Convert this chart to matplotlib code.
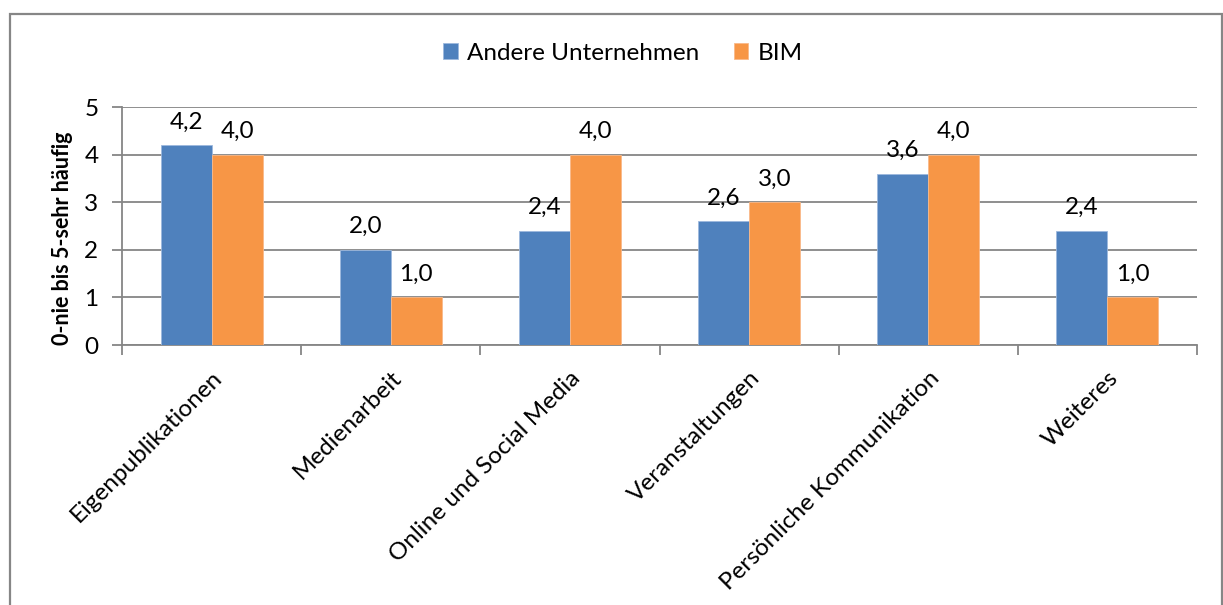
import matplotlib
matplotlib.use("Agg")
import matplotlib.pyplot as plt
from matplotlib.patches import Rectangle
import numpy as np

categories = ["Eigenpublikationen", "Medienarbeit", "Online und Social Media",
              "Veranstaltungen", "Persönliche Kommunikation", "Weiteres"]
andere = [4.2, 2.0, 2.4, 2.6, 3.6, 2.4]
bim = [4.0, 1.0, 4.0, 3.0, 4.0, 1.0]
series_names = ["Andere Unternehmen", "BIM"]
y_ticks = [0, 1, 2, 3, 4, 5]
y_label = "0-nie bis 5-sehr häufig"

plt.rcParams['font.family'] = ['Lato', 'DejaVu Sans']
W, H = 1223, 605
fig = plt.figure(figsize=(W / 100, H / 100), dpi=100)
fig.patch.set_facecolor("white")

grid_c = "#868686"
FS = 17.5
# outer chart border
fig.add_artist(Rectangle((10 / W, -0.2), (1222 - 10) / W, 1.2 - 14 / H,
                         transform=fig.transFigure, fill=False,
                         edgecolor=grid_c, linewidth=1.6))

ax = fig.add_axes([122 / W, 1 - 345 / H, (1197 - 122) / W, (345 - 107) / H])
x = np.arange(len(categories))
bw = 0.285
b1 = ax.bar(x - bw / 2, andere, bw, color="#4F81BD", edgecolor="#9DB9DD", linewidth=0.6,
            label=series_names[0], zorder=3)
b2 = ax.bar(x + bw / 2, bim, bw, color="#F79646", edgecolor="#F9B98A", linewidth=0.6,
            label=series_names[1], zorder=3)

for bars, vals in ((b1, andere), (b2, bim)):
    for r, v in zip(bars, vals):
        ax.annotate(f"{v:.1f}".replace(".", ","),
                    (r.get_x() + r.get_width() / 2, v),
                    xytext=(0, 9), textcoords="offset points",
                    ha="center", va="bottom", fontsize=FS, color="black")

ax.set_xlim(-0.5, len(categories) - 0.5)
ax.set_ylim(0, 5)
ax.set_yticks(y_ticks)
ax.set_yticklabels([str(t) for t in y_ticks], fontsize=FS)
ax.yaxis.grid(True, color=grid_c, linewidth=1.3, zorder=0)
ax.tick_params(axis="y", length=7, width=1.3, color=grid_c, pad=10)

# x ticks at category boundaries
ax.set_xticks(np.arange(-0.5, len(categories), 1.0))
ax.set_xticklabels([])
ax.set_xticks(x, minor=True)
ax.set_xticklabels(categories, minor=True, rotation=45, ha="right",
                   rotation_mode="anchor", fontsize=FS)
ax.tick_params(axis="x", which="major", length=7, width=1.3, color=grid_c, direction="out")
ax.tick_params(axis="x", which="minor", length=0, pad=16)

for s in ["top", "right"]:
    ax.spines[s].set_visible(False)
for s in ["left", "bottom"]:
    ax.spines[s].set_color(grid_c)
    ax.spines[s].set_linewidth(1.3)
ax.set_axisbelow(True)

ax.set_ylabel(y_label, fontsize=15.5, fontweight="bold")
ax.yaxis.set_label_coords(-0.0456, 0.45)

fig.legend(handles=[b1, b2], labels=series_names, loc="center",
           bbox_to_anchor=(623 / W, 1 - 53 / H), ncol=2, frameon=False, fontsize=FS,
           handlelength=0.6, handleheight=0.6, handletextpad=0.4, columnspacing=1.4)

fig.savefig("out.png", dpi=100)
